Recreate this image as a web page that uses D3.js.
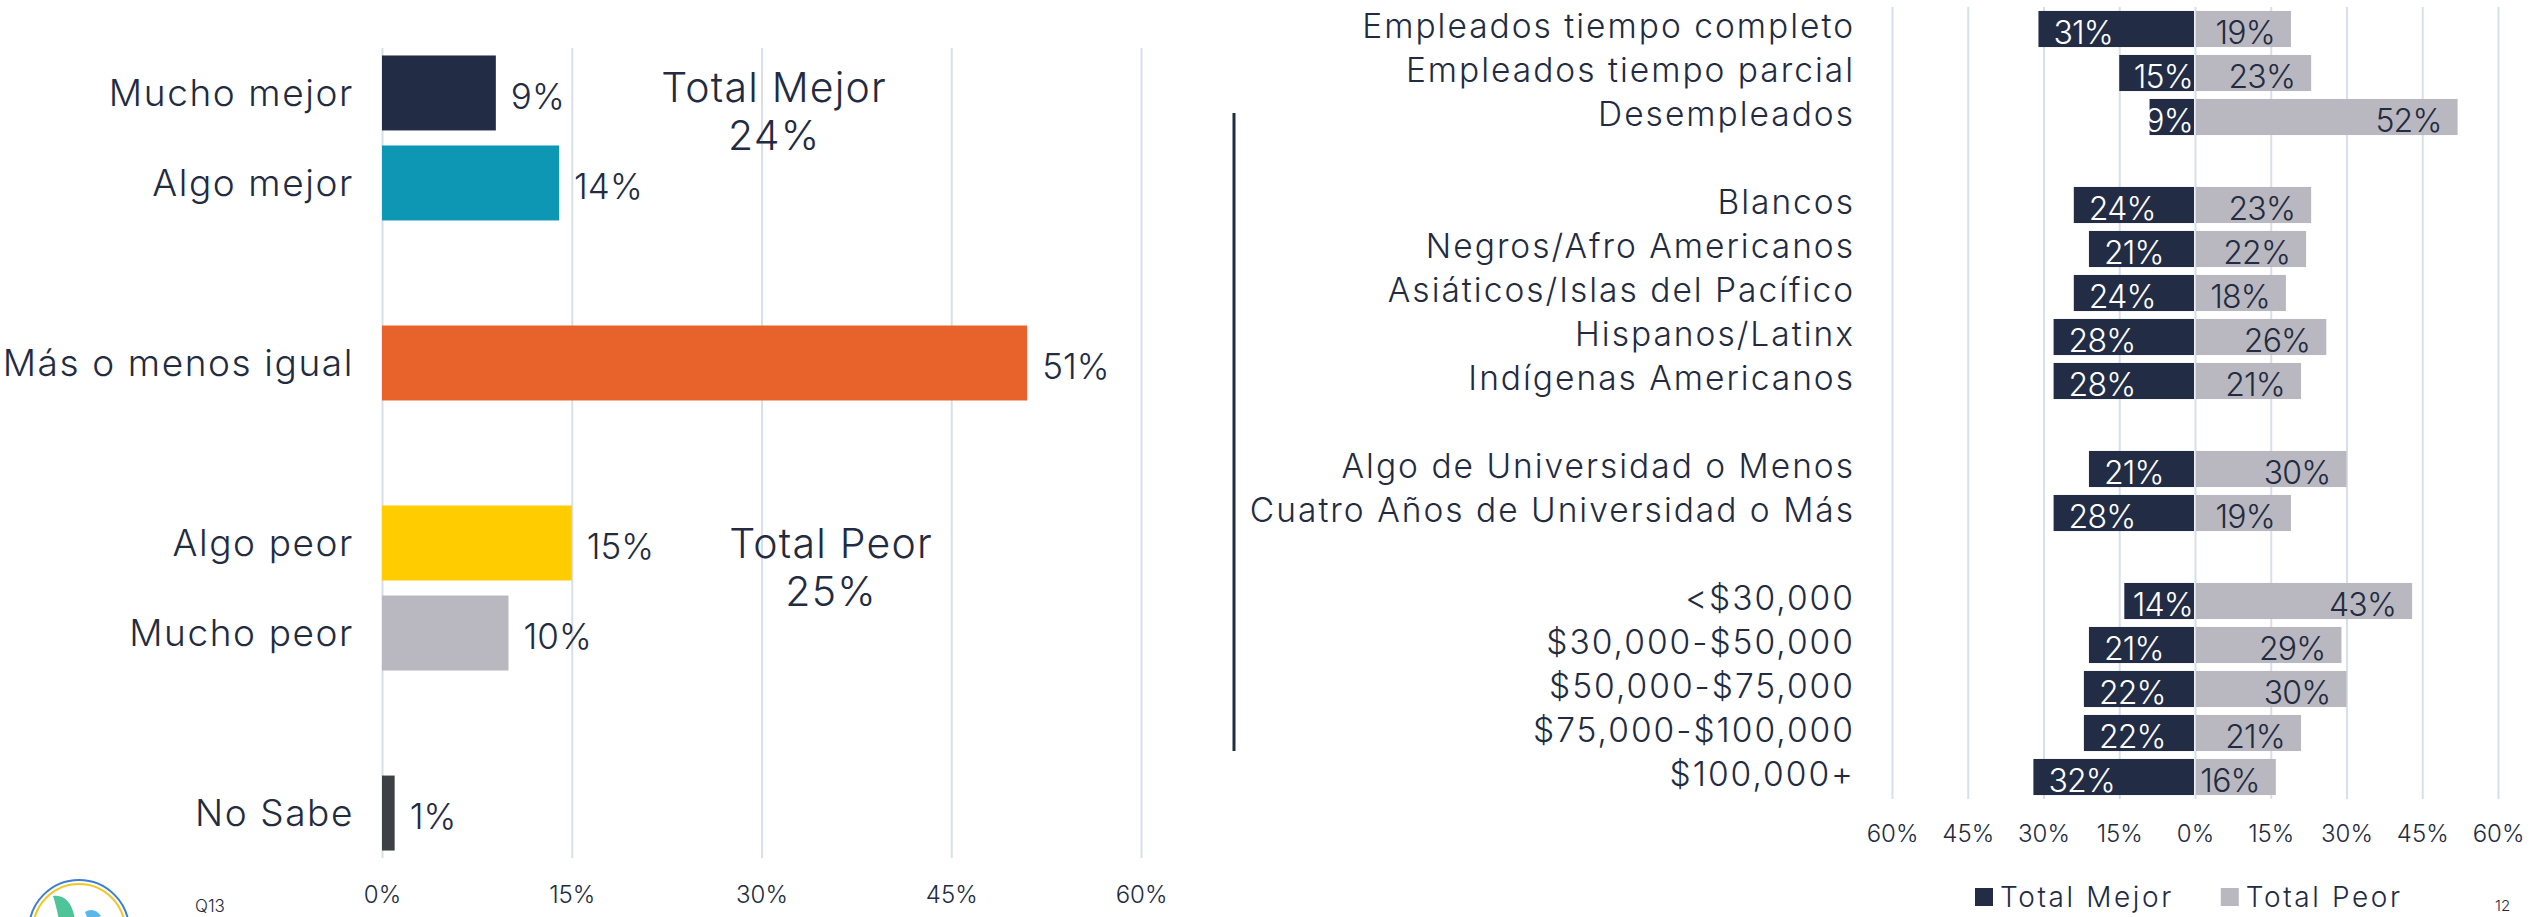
<!DOCTYPE html>
<html>
<head>
<meta charset="utf-8">
<script src="https://cdn.jsdelivr.net/npm/d3@7"></script>
<style>
  body { margin: 0; background: #fff; }
  svg text { font-family: Inter, "Open Sans", sans-serif; font-weight: 300; fill: #222b3f; }
</style>
</head>
<body>
<svg id="chart" width="2534" height="917"></svg>
<script>
// left chart: overall answer
var leftGroups = [
    ["Mucho mejor", "Algo mejor"],
    ["Más o menos igual"],
    ["Algo peor", "Mucho peor"],
    ["No Sabe"]
];
var leftValues = [0.09, 0.14, 0.51, 0.15, 0.10, 0.01];
var leftColors = ["#222d45", "#0e97b5", "#e8632c", "#ffcc00", "#b9b8c0", "#3d4044"];
var totalLabels = ["Total Mejor", "Total Peor"];
var totalValues = [0.24, 0.25];

// right chart: by group
var rightGroups = [
    ["Empleados tiempo completo", "Empleados tiempo parcial", "Desempleados"],
    ["Blancos", "Negros/Afro Americanos", "Asiáticos/Islas del Pacífico", "Hispanos/Latinx", "Indígenas Americanos"],
    ["Algo de Universidad o Menos", "Cuatro Años de Universidad o Más"],
    ["<$30,000", "$30,000-$50,000", "$50,000-$75,000", "$75,000-$100,000", "$100,000+"]
];
var mejorValues = [0.31, 0.15, 0.09, 0.24, 0.21, 0.24, 0.28, 0.28, 0.21, 0.28, 0.14, 0.21, 0.22, 0.22, 0.32];
var peorValues  = [0.19, 0.23, 0.52, 0.23, 0.22, 0.18, 0.26, 0.21, 0.30, 0.19, 0.43, 0.29, 0.30, 0.21, 0.16];
var seriesNames = ["Total Mejor", "Total Peor"];
var seriesColors = ["#222d45", "#b9b8c0"];

var tickValues = [0, 0.15, 0.30, 0.45, 0.60];
var questionLabel = "Q13";
var pageNumber = "12";

var svg = d3.select("#chart");
var gridColor = "#d8dfec";
var pct = d3.format(".0%");

// build band domain with empty slots between groups
function buildSlots(groups) {
    var slots = [];
    groups.forEach(function (g, i) {
        if (i > 0) slots.push("__gap" + i);
        g.forEach(function (c) { slots.push(c); });
    });
    return slots;
}

// ---------- left chart ----------
var leftCats = d3.merge(leftGroups);
var xL = d3.scaleLinear().domain([0, 0.6]).range([382, 1141]);
var yL = d3.scaleBand().domain(buildSlots(leftGroups)).range([48, 858]).paddingInner(0.167).paddingOuter(0.083);

var gL = svg.append("g");
gL.append("g")
    .attr("transform", "translate(0,858)")
    .call(d3.axisBottom(xL).tickValues(tickValues).tickFormat(pct).tickSize(-810).tickPadding(28))
    .call(function (g) {
        g.select(".domain").remove();
        g.selectAll(".tick line").attr("stroke", gridColor).attr("stroke-width", 2);
        g.selectAll(".tick text").attr("font-size", 24).attr("fill", "#222b3f");
    });

gL.selectAll("rect.bar")
    .data(leftCats)
    .join("rect")
    .attr("class", "bar")
    .attr("x", xL(0))
    .attr("y", function (d) { return yL(d); })
    .attr("width", function (d, i) { return xL(leftValues[i]) - xL(0); })
    .attr("height", yL.bandwidth())
    .attr("fill", function (d, i) { return leftColors[i]; });

gL.selectAll("text.cat")
    .data(leftCats)
    .join("text")
    .attr("class", "cat")
    .attr("x", 354)
    .attr("y", function (d) { return yL(d) + yL.bandwidth() / 2; })
    .attr("dy", "0.36em")
    .attr("text-anchor", "end")
    .attr("font-size", 37)
    .attr("letter-spacing", 1.6)
    .text(function (d) { return d; });

gL.selectAll("text.val")
    .data(leftCats)
    .join("text")
    .attr("class", "val")
    .attr("x", function (d, i) { return xL(leftValues[i]) + 15; })
    .attr("y", function (d) { return yL(d) + yL.bandwidth() / 2 + 3; })
    .attr("dy", "0.36em")
    .attr("font-size", 35)
    .text(function (d, i) { return pct(leftValues[i]); });

// total annotations
var totalPos = [
    { x: xL(0.31), y: yL("Mucho mejor") + yL.bandwidth() / 2 - 6 },
    { x: xL(0.355), y: yL("Algo peor") + yL.bandwidth() / 2 }
];
totalLabels.forEach(function (lbl, i) {
    var t = gL.append("text")
        .attr("x", totalPos[i].x)
        .attr("y", totalPos[i].y)
        .attr("text-anchor", "middle")
        .attr("font-size", 41)
        .attr("letter-spacing", 1.2);
    t.append("tspan").attr("x", totalPos[i].x).attr("dy", "0.36em").text(lbl);
    t.append("tspan").attr("x", totalPos[i].x).attr("dy", "1.18em").text(pct(totalValues[i]));
});

// logo and question label
var logo = svg.append("g").attr("transform", "translate(79,930)");
logo.append("circle").attr("r", 50).attr("fill", "#fff").attr("stroke", "#3a7fd0").attr("stroke-width", 2);
logo.append("circle").attr("r", 46).attr("fill", "none").attr("stroke", "#f3c623").attr("stroke-width", 2);
logo.append("path").attr("d", "M-26,-34 C-14,-36 -6,-26 -4,-10 L-20,-10 C-22,-20 -24,-28 -26,-34 Z").attr("fill", "#4fc39a");
logo.append("path").attr("d", "M6,-18 C12,-22 18,-20 22,-14 L10,-8 Z").attr("fill", "#5ab8e8");
svg.append("text").attr("x", 195).attr("y", 912).attr("font-size", 17).attr("fill", "#555").text(questionLabel);

// ---------- right chart ----------
var rightCats = d3.merge(rightGroups);
var xR = d3.scaleLinear().domain([-0.6, 0.6]).range([1892, 2498]);
var yR = d3.scaleBand().domain(buildSlots(rightGroups)).range([7, 799]).paddingInner(0.18).paddingOuter(0.09);

var gR = svg.append("g");
gR.append("g")
    .attr("transform", "translate(0,799)")
    .call(d3.axisBottom(xR).tickValues([-0.6, -0.45, -0.3, -0.15, 0, 0.15, 0.3, 0.45, 0.6])
        .tickFormat(function (d) { return pct(Math.abs(d)); }).tickSize(-792).tickPadding(26))
    .call(function (g) {
        g.select(".domain").remove();
        g.selectAll(".tick line").attr("stroke", gridColor).attr("stroke-width", 2);
        g.selectAll(".tick text").attr("font-size", 24).attr("fill", "#222b3f");
    });

// separator line
svg.append("line")
    .attr("x1", 1234).attr("x2", 1234)
    .attr("y1", yR("Desempleados") + yR.bandwidth() / 2 - 4)
    .attr("y2", yR("$75,000-$100,000") + yR.bandwidth())
    .attr("stroke", "#222d45").attr("stroke-width", 3);

gR.selectAll("text.cat")
    .data(rightCats)
    .join("text")
    .attr("class", "cat")
    .attr("x", 1855)
    .attr("y", function (d) { return yR(d) + yR.bandwidth() / 2 - 3; })
    .attr("dy", "0.36em")
    .attr("text-anchor", "end")
    .attr("font-size", 33.5)
    .attr("letter-spacing", 2)
    .text(function (d) { return d; });

gR.selectAll("rect.mejor")
    .data(rightCats)
    .join("rect")
    .attr("class", "mejor")
    .attr("x", function (d, i) { return xR(-mejorValues[i]); })
    .attr("y", function (d) { return yR(d); })
    .attr("width", function (d, i) { return xR(0) - xR(-mejorValues[i]) - 1; })
    .attr("height", yR.bandwidth())
    .attr("fill", seriesColors[0]);

gR.selectAll("rect.peor")
    .data(rightCats)
    .join("rect")
    .attr("class", "peor")
    .attr("x", xR(0) + 1)
    .attr("y", function (d) { return yR(d); })
    .attr("width", function (d, i) { return xR(peorValues[i]) - xR(0) - 1; })
    .attr("height", yR.bandwidth())
    .attr("fill", seriesColors[1]);

gR.selectAll("text.mv")
    .data(rightCats)
    .join("text")
    .attr("class", "mv")
    .attr("y", function (d) { return yR(d) + yR.bandwidth() / 2 + 3; })
    .attr("dy", "0.36em")
    .attr("font-size", 32)
    .attr("letter-spacing", -0.8)
    .style("fill", "#fff")
    .text(function (d, i) { return pct(mejorValues[i]); })
    .attr("x", function (d, i) {
        var w = this.getComputedTextLength();
        return Math.min(xR(-mejorValues[i]) + 15, xR(0) - 2 - w);
    });

gR.selectAll("text.pv")
    .data(rightCats)
    .join("text")
    .attr("class", "pv")
    .attr("y", function (d) { return yR(d) + yR.bandwidth() / 2 + 3; })
    .attr("dy", "0.36em")
    .attr("font-size", 32)
    .attr("letter-spacing", -0.8)
    .text(function (d, i) { return pct(peorValues[i]); })
    .attr("x", function (d, i) {
        var w = this.getComputedTextLength();
        return Math.max(xR(peorValues[i]) - 16 - w, xR(0) + 5);
    });

// legend
var legend = svg.append("g").attr("transform", "translate(1975,897)");
var lx = 0;
seriesNames.forEach(function (name, i) {
    var item = legend.append("g").attr("transform", "translate(" + lx + ",0)");
    item.append("rect").attr("x", 0).attr("y", -9).attr("width", 18).attr("height", 18).attr("fill", seriesColors[i]);
    var t = item.append("text").attr("x", 25).attr("dy", "0.36em").attr("font-size", 28).attr("letter-spacing", 2.6).text(name);
    lx += 25 + t.node().getComputedTextLength() + 47;
});

svg.append("text").attr("x", 2495).attr("y", 911).attr("font-size", 15).attr("fill", "#888").text(pageNumber);
</script>
</body>
</html>
